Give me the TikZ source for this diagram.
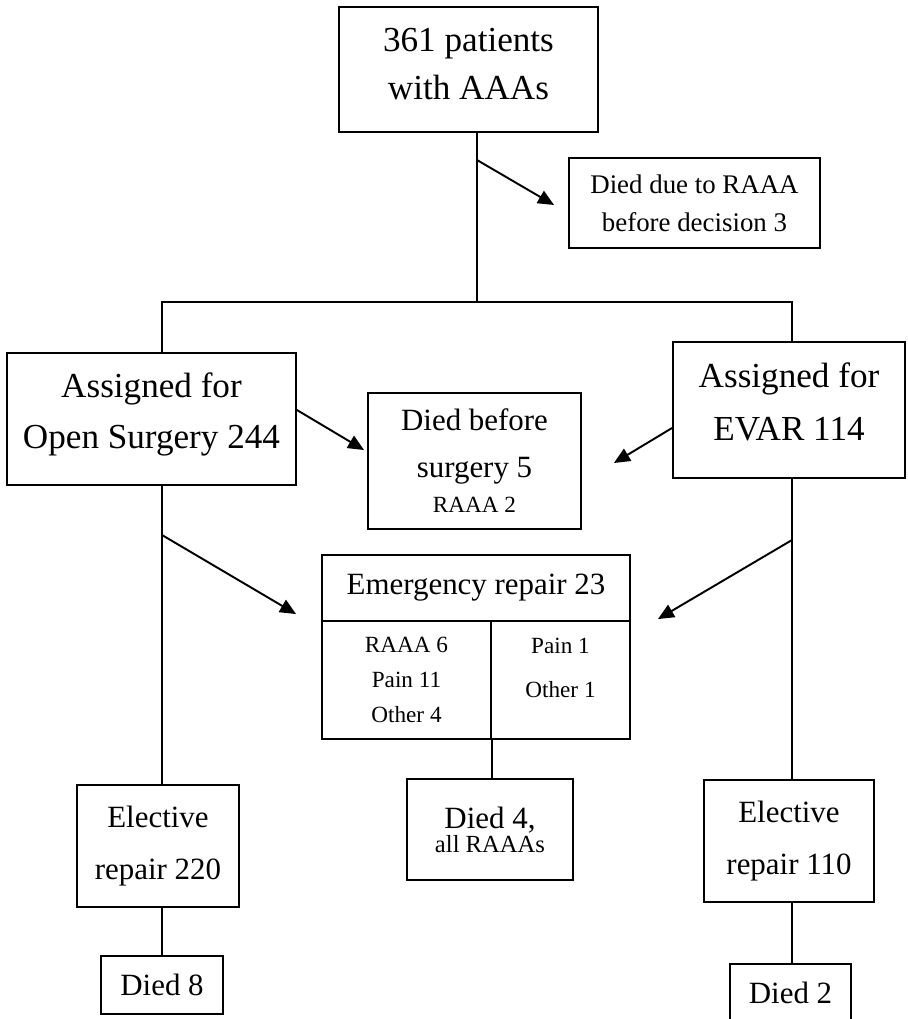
\documentclass[tikz,border=0pt]{standalone}
\usepackage{fontspec}
\setmainfont{Liberation Serif}
\usetikzlibrary{arrows.meta,calc}

\tikzset{
  box/.style={draw, line width=1.1pt, inner sep=0pt, align=center},
  sz/.style 2 args={minimum width=#1*0.2mm, minimum height=#2*0.2mm},
  link/.style={line width=1.1pt},
  arr/.style={line width=1.1pt, -{Triangle[length=3.2mm,width=2.8mm]}},
  big/.style={font=\fontsize{20}{27.3}\selectfont},
  mid/.style={font=\fontsize{17.6}{30}\selectfont},
  small/.style={font=\fontsize{13.2}{20}\selectfont},
}

\begin{document}
\begin{tikzpicture}[x=0.02cm, y=-0.02cm]
  \useasboundingbox (0,0) rectangle (908,1019);
  \clip (0,0) rectangle (908,1019);

  \node[box, sz={259}{125}, big, text depth=2.2mm] (top) at (468.5,69.5) {361 patients\\with AAAs};
  \node[box, sz={251}{90}, font=\fontsize{15.3}{21.6}\selectfont] (raaa) at (694.5,203) {Died due to RAAA\\before decision 3};
  \node[box, sz={289}{132}, font=\fontsize{20}{29}\selectfont, text depth=3.5mm] (open) at (151.5,419) {Assigned for\\Open Surgery 244};
  \node[box, sz={213}{136}, font=\fontsize{17.6}{26.7}\selectfont] (before) at (474.5,461) {Died before\\surgery 5\\[-6.7pt]{\fontsize{13.2}{20}\selectfont RAAA 2}};
  \node[box, sz={232}{136}, font=\fontsize{20}{30}\selectfont, text depth=3.4mm] (evar) at (789,410) {Assigned for\\EVAR 114};

  \node[box, sz={308}{66}, mid] (emerg) at (476,588) {Emergency repair 23};
  \node[box, sz={169}{118}, small] (emL) at (406.5,680) {RAAA 6\\Pain 11\\Other 4};
  \node[box, sz={139}{118}, font=\fontsize{13.2}{25}\selectfont, text depth=5mm] (emR) at (560.5,680) {Pain 1\\Other 1};
  \node[box, sz={166}{101}, font=\fontsize{17.6}{13.7}\selectfont] (died4) at (490,829.5) {Died 4,\\{\fontsize{14}{13.7}\selectfont all RAAAs}};

  \node[box, sz={162}{122}, mid] (el220) at (158,846) {Elective\\repair 220};
  \node[box, sz={122}{58}, mid] (died8) at (162,985) {Died 8};
  \node[box, sz={170}{122}, mid] (el110) at (789,841) {Elective\\repair 110};
  \node[box, sz={121}{58}, mid] (died2) at (790.5,993) {Died 2};

  \coordinate (split) at (477,302);
  \coordinate (lsplit) at (162,302);
  \coordinate (rsplit) at (792,302);
  \coordinate (k1) at (477,160);
  \coordinate (k2) at (162,535);
  \coordinate (k3) at (792,540);

  \draw[link] (top.south -| split) -- (split);
  \draw[link] (lsplit |- open.north) -- (lsplit) -- (rsplit) -- (rsplit |- evar.north);
  \draw[link] (lsplit |- open.south) -- (lsplit |- el220.north);
  \draw[link] (died8.north |- el220.south) -- (died8.north);
  \draw[link] (rsplit |- evar.south) -- (rsplit |- el110.north);
  \draw[link] (rsplit |- el110.south) -- (rsplit |- died2.north);
  \draw[link] (emL.south east) -- (emL.south east |- died4.north);

  \draw[arr] (k1) -- ($(raaa.west)+(-14,2)$);
  \draw[arr] ($(open.east)+(0,-9)$) -- ($(before.west)+(-3,-11)$);
  \draw[arr] ($(evar.west)+(0,18)$) -- ($(before.east)+(32,2)$);
  \draw[arr] (k2) -- ($(emL.north west)+(-25,-6)$);
  \draw[arr] (k3) -- ($(emR.north east)+(27,-1)$);
\end{tikzpicture}
\end{document}
